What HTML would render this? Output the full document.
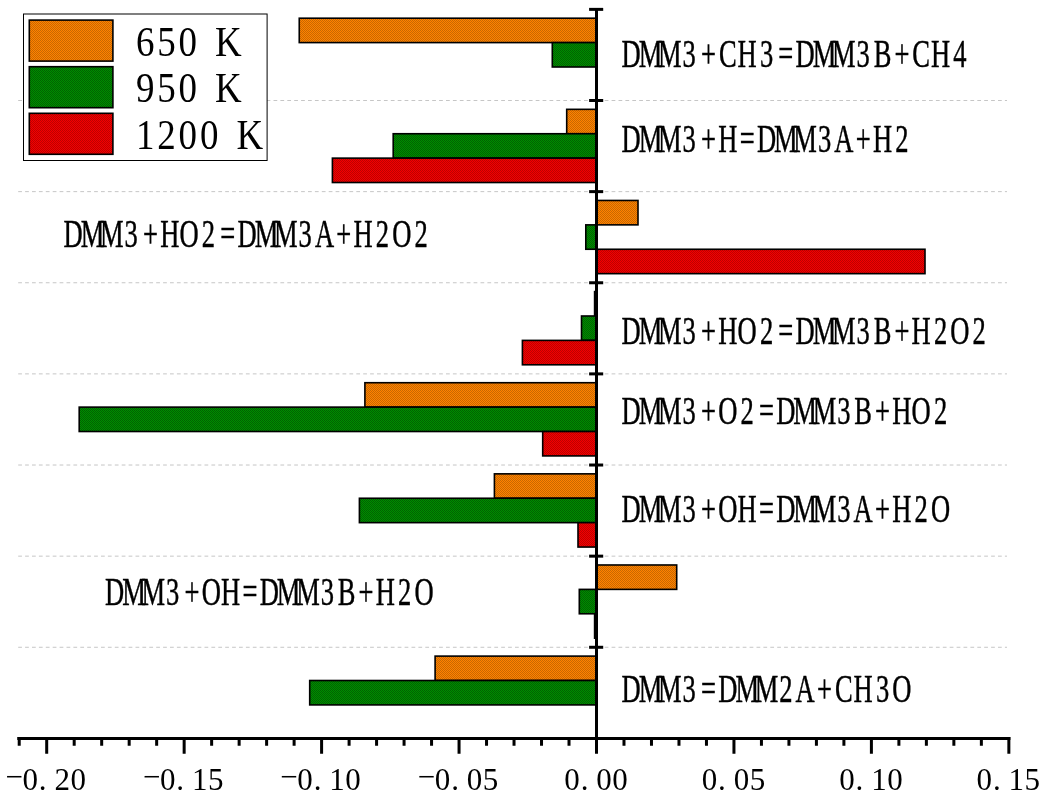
<!DOCTYPE html>
<html lang="en"><head><meta charset="utf-8"><title>Sensitivity analysis</title>
<style>html,body{margin:0;padding:0;background:#fff}svg{display:block}text{font-family:"Liberation Serif","Noto Serif CJK SC",serif;fill:#000}</style></head><body>
<svg width="1046" height="800" viewBox="0 0 1046 800">
<defs>
<pattern id="po" width="2" height="2" patternUnits="userSpaceOnUse"><rect width="2" height="2" fill="#ff8200"/><rect width="1" height="1" fill="#c86800"/><rect x="1" y="1" width="1" height="1" fill="#c86800"/></pattern>
<pattern id="pg" width="2" height="2" patternUnits="userSpaceOnUse"><rect width="2" height="2" fill="#008c00"/><rect width="1" height="1" fill="#006400"/><rect x="1" y="1" width="1" height="1" fill="#006400"/></pattern>
<pattern id="pr" width="2" height="2" patternUnits="userSpaceOnUse"><rect width="2" height="2" fill="#f40000"/><rect width="1" height="1" fill="#be0000"/><rect x="1" y="1" width="1" height="1" fill="#be0000"/></pattern>
</defs>
<rect width="1046" height="800" fill="#fff"/>
<g stroke="#c6c6c6" stroke-width="1" stroke-dasharray="3.75 3.15" fill="none">
<line x1="18.2" y1="100.5" x2="1007" y2="100.5"/>
<line x1="18.2" y1="191.63" x2="1007" y2="191.63"/>
<line x1="18.2" y1="282.76" x2="1007" y2="282.76"/>
<line x1="18.2" y1="373.89" x2="1007" y2="373.89"/>
<line x1="18.2" y1="465.02" x2="1007" y2="465.02"/>
<line x1="18.2" y1="556.15" x2="1007" y2="556.15"/>
<line x1="18.2" y1="647.28" x2="1007" y2="647.28"/>
</g>
<g stroke="#000" stroke-width="1.6">
<rect x="299.25" y="18.2" width="297.25" height="24.4" fill="url(#po)"/>
<rect x="552.3" y="42.6" width="44.2" height="24.4" fill="url(#pg)"/>
<rect x="566.7" y="109.33" width="29.8" height="24.4" fill="url(#po)"/>
<rect x="393.2" y="133.73" width="203.3" height="24.4" fill="url(#pg)"/>
<rect x="332.4" y="158.13" width="264.1" height="24.4" fill="url(#pr)"/>
<rect x="596.5" y="200.46" width="41.5" height="24.4" fill="url(#po)"/>
<rect x="585.8" y="224.86" width="10.7" height="24.4" fill="url(#pg)"/>
<rect x="596.5" y="249.26" width="328.5" height="24.4" fill="url(#pr)"/>
<rect x="594.6" y="291.59" width="1.9" height="24.4" fill="url(#po)"/>
<rect x="581.5" y="315.99" width="15" height="24.4" fill="url(#pg)"/>
<rect x="522.4" y="340.39" width="74.1" height="24.4" fill="url(#pr)"/>
<rect x="364.9" y="382.72" width="231.6" height="24.4" fill="url(#po)"/>
<rect x="79.2" y="407.12" width="517.3" height="24.4" fill="url(#pg)"/>
<rect x="542.7" y="431.52" width="53.8" height="24.4" fill="url(#pr)"/>
<rect x="494.4" y="473.85" width="102.1" height="24.4" fill="url(#po)"/>
<rect x="359.4" y="498.25" width="237.1" height="24.4" fill="url(#pg)"/>
<rect x="578" y="522.65" width="18.5" height="24.4" fill="url(#pr)"/>
<rect x="596.5" y="564.98" width="80.2" height="24.4" fill="url(#po)"/>
<rect x="579.3" y="589.38" width="17.2" height="24.4" fill="url(#pg)"/>
<rect x="594.6" y="613.78" width="1.9" height="24.4" fill="url(#pr)"/>
<rect x="435.1" y="656.11" width="161.4" height="24.4" fill="url(#po)"/>
<rect x="309.7" y="680.51" width="286.8" height="24.4" fill="url(#pg)"/>
</g>
<g stroke="#000" stroke-width="3" fill="none">
<line x1="17.3" y1="738.5" x2="1010.4" y2="738.5"/>
<line x1="596.5" y1="8" x2="596.5" y2="740"/>
<line x1="589.1" y1="9.37" x2="603.2" y2="9.37"/>
<line x1="589.1" y1="100.5" x2="603.2" y2="100.5"/>
<line x1="589.1" y1="191.63" x2="603.2" y2="191.63"/>
<line x1="589.1" y1="282.76" x2="603.2" y2="282.76"/>
<line x1="589.1" y1="373.89" x2="603.2" y2="373.89"/>
<line x1="589.1" y1="465.02" x2="603.2" y2="465.02"/>
<line x1="589.1" y1="556.15" x2="603.2" y2="556.15"/>
<line x1="589.1" y1="647.28" x2="603.2" y2="647.28"/>
<path d="M19.21 737V745.7M46.7 737V753.8M74.19 737V745.7M101.68 737V745.7M129.17 737V745.7M156.66 737V745.7M184.15 737V753.8M211.64 737V745.7M239.13 737V745.7M266.62 737V745.7M294.11 737V745.7M321.6 737V753.8M349.09 737V745.7M376.58 737V745.7M404.07 737V745.7M431.56 737V745.7M459.05 737V753.8M486.54 737V745.7M514.03 737V745.7M541.52 737V745.7M569.01 737V745.7M596.5 737V753.8M623.99 737V745.7M651.48 737V745.7M678.97 737V745.7M706.46 737V745.7M733.95 737V753.8M761.44 737V745.7M788.93 737V745.7M816.42 737V745.7M843.91 737V745.7M871.4 737V753.8M898.89 737V745.7M926.38 737V745.7M953.87 737V745.7M981.36 737V745.7M1008.85 737V753.8"/>
</g>
<rect x="23.5" y="14" width="243.6" height="146.5" fill="#fff" stroke="#000" stroke-width="1"/>
<g stroke="#000" stroke-width="1.6">
<rect x="29.3" y="20.1" width="83.6" height="41" fill="url(#po)"/>
<rect x="29.3" y="66.7" width="83.6" height="41" fill="url(#pg)"/>
<rect x="29.3" y="113.3" width="83.6" height="41" fill="url(#pr)"/>
</g>
<text transform="scale(0.88 1)" x="165.06 189.26 213.47 237.67 259.6" y="55.6" font-size="42" text-anchor="middle">650 K</text>
<text transform="scale(0.88 1)" x="165.06 189.26 213.47 237.67 259.6" y="102.5" font-size="42" text-anchor="middle">950 K</text>
<text transform="scale(0.88 1)" x="165.06 189.26 213.47 237.67 261.88 283.81" y="148.8" font-size="42" text-anchor="middle">1200 K</text>
<text transform="scale(0.67 1)" x="942.04 970.9 999.76 1028.62 1057.47 1086.33 1115.19 1144.05 1172.91 1201.76 1230.62 1259.48 1288.34 1317.2 1346.06 1374.91 1403.77 1432.63" y="67.4" font-size="39.6" text-anchor="middle" stroke="#000" stroke-width="0.45">DMM3+CH3=DMM3B+CH4</text>
<text transform="scale(0.67 1)" x="942.04 970.9 999.76 1028.62 1057.47 1086.33 1115.19 1144.05 1172.91 1201.76 1230.62 1259.48 1288.34 1317.2 1346.06" y="152.4" font-size="39.6" text-anchor="middle" stroke="#000" stroke-width="0.45">DMM3+H=DMM3A+H2</text>
<text transform="scale(0.67 1)" x="109.13 137.99 166.85 195.71 224.56 253.42 282.28 311.14 340 368.85 397.71 426.57 455.43 484.29 513.15 542 570.86 599.72 628.58" y="247.4" font-size="39.6" text-anchor="middle" stroke="#000" stroke-width="0.45">DMM3+HO2=DMM3A+H2O2</text>
<text transform="scale(0.67 1)" x="942.04 970.9 999.76 1028.62 1057.47 1086.33 1115.19 1144.05 1172.91 1201.76 1230.62 1259.48 1288.34 1317.2 1346.06 1374.91 1403.77 1432.63 1461.49" y="344" font-size="39.6" text-anchor="middle" stroke="#000" stroke-width="0.45">DMM3+HO2=DMM3B+H2O2</text>
<text transform="scale(0.67 1)" x="942.04 970.9 999.76 1028.62 1057.47 1086.33 1115.19 1144.05 1172.91 1201.76 1230.62 1259.48 1288.34 1317.2 1346.06 1374.91 1403.77" y="424" font-size="39.6" text-anchor="middle" stroke="#000" stroke-width="0.45">DMM3+O2=DMM3B+HO2</text>
<text transform="scale(0.67 1)" x="942.04 970.9 999.76 1028.62 1057.47 1086.33 1115.19 1144.05 1172.91 1201.76 1230.62 1259.48 1288.34 1317.2 1346.06 1374.91 1403.77" y="522" font-size="39.6" text-anchor="middle" stroke="#000" stroke-width="0.45">DMM3+OH=DMM3A+H2O</text>
<text transform="scale(0.67 1)" x="171.07 199.93 228.79 257.65 286.5 315.36 344.22 373.08 401.94 430.79 459.65 488.51 517.37 546.23 575.09 603.94 632.8" y="604.9" font-size="39.6" text-anchor="middle" stroke="#000" stroke-width="0.45">DMM3+OH=DMM3B+H2O</text>
<text transform="scale(0.67 1)" x="942.04 970.9 999.76 1028.62 1057.47 1086.33 1115.19 1144.05 1172.91 1201.76 1230.62 1259.48 1288.34 1317.2 1346.06" y="702" font-size="39.6" text-anchor="middle" stroke="#000" stroke-width="0.45">DMM3=DMM2A+CH3O</text>
<text x="14.2 30.2 42.7 62.2 78.2" y="787.4 789.6 789.6 789.6 789.6" font-size="31" text-anchor="middle">−0.20</text>
<text x="151.65 167.65 180.15 199.65 215.65" y="787.4 789.6 789.6 789.6 789.6" font-size="31" text-anchor="middle">−0.15</text>
<text x="289.1 305.1 317.6 337.1 353.1" y="787.4 789.6 789.6 789.6 789.6" font-size="31" text-anchor="middle">−0.10</text>
<text x="426.55 442.55 455.05 474.55 490.55" y="787.4 789.6 789.6 789.6 789.6" font-size="31" text-anchor="middle">−0.05</text>
<text x="572 584.5 604 620" y="789.6" font-size="31" text-anchor="middle">0.00</text>
<text x="709.45 721.95 741.45 757.45" y="789.6" font-size="31" text-anchor="middle">0.05</text>
<text x="846.9 859.4 878.9 894.9" y="789.6" font-size="31" text-anchor="middle">0.10</text>
<text x="984.35 996.85 1016.35 1032.35" y="789.6" font-size="31" text-anchor="middle">0.15</text>
</svg></body></html>
